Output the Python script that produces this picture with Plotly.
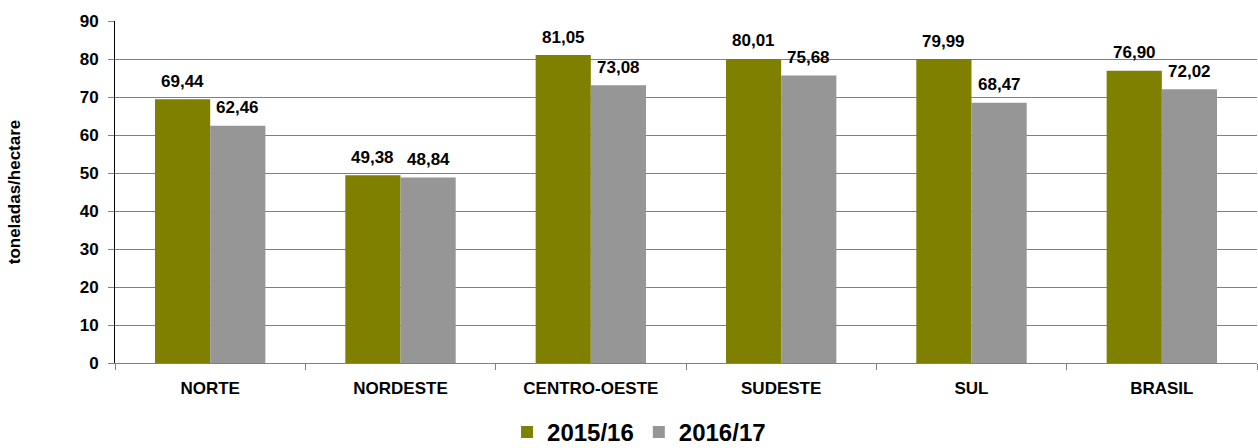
import plotly.graph_objects as go

# -------------------------------------------------
# DATA
# -------------------------------------------------

regioes = ["NORTE", "NORDESTE", "CENTRO-OESTE", "SUDESTE", "SUL", "BRASIL"]
safra_2015_16 = [69.44, 49.38, 81.05, 80.01, 79.99, 76.90]
safra_2016_17 = [62.46, 48.84, 73.08, 75.68, 68.47, 72.02]
y_ticks = [0, 10, 20, 30, 40, 50, 60, 70, 80, 90]


def fmt(v):
    return f"{v:.2f}".replace(".", ",")


FONT = "Liberation Sans, Arial, sans-serif"
WIDTH, HEIGHT = 1258, 448
MARGIN = dict(l=115, r=1, t=21, b=85)
BARGAP = 0.42

fig = go.Figure()

fig.add_trace(go.Bar(
    x=regioes,
    y=safra_2015_16,
    name="2015/16",
    marker=dict(color="#808000", line=dict(width=0)),
))

fig.add_trace(go.Bar(
    x=regioes,
    y=safra_2016_17,
    name="2016/17",
    marker=dict(color="#969696", line=dict(width=0)),
))

# value labels, placed over each bar of the group
cat_px = (WIDTH - MARGIN["l"] - MARGIN["r"]) / len(regioes)
bar_px = cat_px * (1 - BARGAP) / 2
for serie, sign in [(safra_2015_16, -1), (safra_2016_17, 1)]:
    for reg, v in zip(regioes, serie):
        fig.add_annotation(
            x=reg, y=v,
            text=fmt(v),
            showarrow=False,
            xshift=sign * bar_px / 2,
            yshift=18,
            yanchor="middle",
            font=dict(family=FONT, size=17, color="black", weight="bold"),
        )

fig.update_layout(
    width=WIDTH,
    height=HEIGHT,
    barmode="group",
    bargap=BARGAP,
    bargroupgap=0,
    plot_bgcolor="white",
    paper_bgcolor="white",
    margin=MARGIN,
    font=dict(family=FONT, color="black", size=17, weight="bold"),
    legend=dict(
        orientation="h",
        xref="container",
        x=0.508,
        xanchor="center",
        yref="container",
        y=0.035,
        yanchor="middle",
        font=dict(family=FONT, size=24, color="black", weight="bold"),
        itemwidth=30,
    ),
)

fig.update_xaxes(
    automargin=False,
    showline=True,
    linecolor="#808080",
    linewidth=1,
    ticks="outside",
    tickson="boundaries",
    ticklen=6,
    tickcolor="#808080",
    tickfont=dict(family=FONT, size=17, color="black", weight="bold"),
    ticklabelstandoff=10,
)

fig.update_yaxes(
    automargin=False,
    range=[0, 90],
    tickvals=y_ticks,
    showline=True,
    linecolor="black",
    linewidth=1,
    ticks="outside",
    ticklen=6,
    tickcolor="#808080",
    showgrid=True,
    gridcolor="#808080",
    gridwidth=1,
    zeroline=False,
    tickfont=dict(family=FONT, size=17, color="black", weight="bold"),
    ticklabelstandoff=6,
    title=dict(
        text="toneladas/hectare",
        font=dict(family=FONT, size=17, color="black", weight="bold"),
        standoff=54,
    ),
)

# drop the default page margin so the figure sits at the window corner
fig.write_html(
    "out.html",
    config={"displayModeBar": False},
    post_script="document.body.style.margin='0';",
)
